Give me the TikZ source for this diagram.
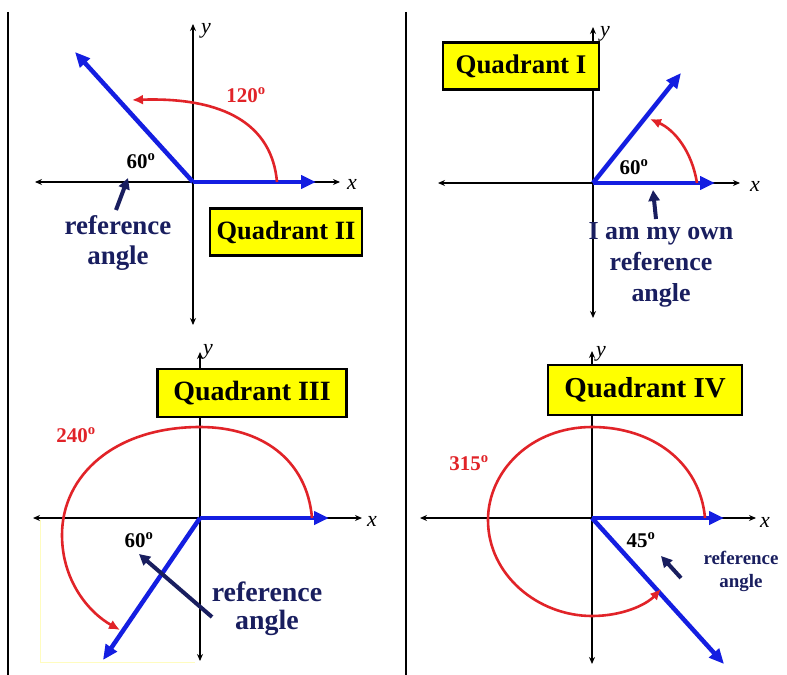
\documentclass[tikz,border=0pt]{standalone}
\usepackage{fontspec}
\setmainfont{Liberation Serif}
\usetikzlibrary{arrows.meta}
\definecolor{rayblue}{RGB}{20,30,225}
\definecolor{arcred}{RGB}{225,35,40}
\definecolor{navy}{RGB}{25,30,95}
\definecolor{boxyellow}{RGB}{255,255,0}
\tikzset{
  axis/.style={line width=1.5bp,black,{Stealth[length=7bp,width=6bp]}-{Stealth[length=7bp,width=6bp]}},
  ray/.style={line width=4.5bp,rayblue,-{Triangle[length=15bp,width=13bp]}},
  arcarrow/.style={line width=2.6bp,arcred,-{Latex[length=11bp,width=10bp]}},
  refarrow/.style={line width=4bp,navy,-{Triangle[length=11bp,width=11bp]}},
  qbox/.style={draw=black,line width=2.2bp,fill=boxyellow,minimum height=47bp,inner xsep=2bp,inner ysep=0bp,font=\bfseries},
  deg/.style={font=\fontsize{21}{23}\selectfont\bfseries},
  reftext/.style={navy,align=center,font=\bfseries},
  axlabel/.style={font=\fontsize{22}{22}\selectfont\itshape},
  sep/.style={line width=1.5bp,black},
  faint/.style={line width=0.8bp,yellow!25}
}
\newcommand{\dg}{\textsuperscript{o}}
\begin{document}
\begin{tikzpicture}[x=1bp,y=-1bp]
\useasboundingbox[fill=white] (0,0) rectangle (787,675);
% separators
\coordinate (s1a) at (8,12); \coordinate (s1b) at (8,675);
\coordinate (s2a) at (406,12); \coordinate (s2b) at (406,675);
\draw[sep] (s1a) -- (s1b);
\draw[sep] (s2a) -- (s2b);

% ---------- Quadrant II (top-left) ----------
\coordinate (o2) at (193,182);
\coordinate (x2l) at (35,182); \coordinate (x2r) at (340,182);
\coordinate (y2t) at (193,24); \coordinate (y2b) at (193,325);
\draw[axis] (x2l) -- (x2r);
\draw[axis] (y2b) -- (y2t);
\node[axlabel] (ly2) at (206,31) {y};
\node[axlabel] (lx2) at (352,184) {x};
\coordinate (r2a) at (75,52); \coordinate (r2b) at (316,182);
\draw[ray] (o2) -- (r2b);
\draw[ray] (o2) -- (r2a);
\coordinate (a2s) at (277,182); \coordinate (a2e) at (132,100);
\draw[arcarrow] (a2s) .. controls (272,125) and (225,97) .. (a2e);
\node[deg,arcred] (d2) at (246,95) {120\dg};
\node[deg] (d2b) at (141,161) {60\dg};
\node[qbox,minimum width=152bp,font=\fontsize{26.5}{28}\selectfont\bfseries] (q2) at (286,232) {Quadrant II};
\node[reftext,font=\fontsize{27}{30}\selectfont\bfseries] (t2) at (118,243) {reference\\angle};
\coordinate (p2a) at (116,210); \coordinate (p2b) at (128,178);
\draw[refarrow] (p2a) -- (p2b);

% ---------- Quadrant I (top-right) ----------
\coordinate (o1) at (593,183);
\coordinate (x1l) at (438,183); \coordinate (x1r) at (740,183);
\coordinate (y1t) at (593,27); \coordinate (y1b) at (593,318);
\draw[axis] (x1l) -- (x1r);
\draw[axis] (y1b) -- (y1t);
\node[axlabel] (ly1) at (605,34) {y};
\node[axlabel] (lx1) at (755,186) {x};
\node[qbox,minimum width=156bp,font=\fontsize{27}{28}\selectfont\bfseries] (q1) at (521,66) {Quadrant I};
\coordinate (r1a) at (681,73); \coordinate (r1b) at (715,183);
\draw[ray] (o1) -- (r1b);
\draw[ray] (o1) -- (r1a);
\coordinate (a1s) at (697,183); \coordinate (a1e) at (650,119);
\draw[arcarrow] (a1s) .. controls (692,152) and (675,130) .. (a1e);
\node[deg] (d1) at (634,167) {60\dg};
\coordinate (p1a) at (656,219); \coordinate (p1b) at (653,190);
\draw[refarrow] (p1a) -- (p1b);
\node[reftext,font=\fontsize{26}{31}\selectfont\bfseries] (t1) at (661,265) {I am my own\\reference\\angle};

% ---------- Quadrant III (bottom-left) ----------
\coordinate (o3) at (200,518);
\draw[faint] (40,520) -- (40,662) -- (195,662);
\coordinate (x3l) at (33,518); \coordinate (x3r) at (362,518);
\coordinate (y3t) at (200,352); \coordinate (y3b) at (200,661);
\draw[axis] (x3l) -- (x3r);
\draw[axis] (y3b) -- (y3t);
\node[axlabel] (ly3) at (208,352) {y};
\node[axlabel] (lx3) at (372,521) {x};
\coordinate (r3a) at (103,660); \coordinate (r3b) at (329,518);
\draw[ray] (o3) -- (r3b);
\draw[ray] (o3) -- (r3a);
\coordinate (a3s) at (312,518); \coordinate (a3e) at (120,630);
\draw[arcarrow] (a3s) .. controls (307,460) and (262,427) .. (200,427)
  .. controls (115,427) and (62,475) .. (62,535)
  .. controls (62,580) and (88,612) .. (a3e);
\node[qbox,minimum width=189bp,minimum height=48bp,font=\fontsize{28}{29}\selectfont\bfseries] (q3) at (252,393) {Quadrant III};
\node[deg,arcred] (d3) at (76,435) {240\dg};
\node[deg] (d3b) at (139,540) {60\dg};
\coordinate (p3a) at (212,617); \coordinate (p3b) at (139,554);
\draw[refarrow] (p3a) -- (p3b);
\node[reftext,font=\fontsize{28}{28}\selectfont\bfseries] (t3) at (267,609) {reference\\angle};

% ---------- Quadrant IV (bottom-right) ----------
\coordinate (o4) at (592,518);
\coordinate (x4l) at (420,518); \coordinate (x4r) at (756,518);
\coordinate (y4t) at (592,351); \coordinate (y4b) at (592,664);
\draw[axis] (x4l) -- (x4r);
\draw[axis] (y4b) -- (y4t);
\node[axlabel] (ly4) at (601,354) {y};
\node[axlabel] (lx4) at (765,522) {x};
\coordinate (r4a) at (724,664); \coordinate (r4b) at (724,518);
\draw[ray] (o4) -- (r4b);
\draw[ray] (o4) -- (r4a);
\coordinate (a4s) at (705,518); \coordinate (a4e) at (661,589);
\draw[arcarrow] (a4s) .. controls (700,462) and (652,427) .. (592,427)
  .. controls (530,427) and (488,472) .. (488,520)
  .. controls (488,575) and (538,616) .. (592,616)
  .. controls (622,616) and (646,605) .. (a4e);
\node[qbox,minimum width=194bp,minimum height=50bp,font=\fontsize{29}{30}\selectfont\bfseries] (q4) at (645,390) {Quadrant IV};
\node[deg,arcred] (d4) at (469,463) {315\dg};
\node[deg] (d4b) at (641,540) {45\dg};
\coordinate (p4a) at (681,578); \coordinate (p4b) at (661,556);
\draw[refarrow] (p4a) -- (p4b);
\node[reftext,font=\fontsize{19}{23}\selectfont\bfseries] (t4) at (741,571) {reference\\angle};
\end{tikzpicture}
\end{document}
